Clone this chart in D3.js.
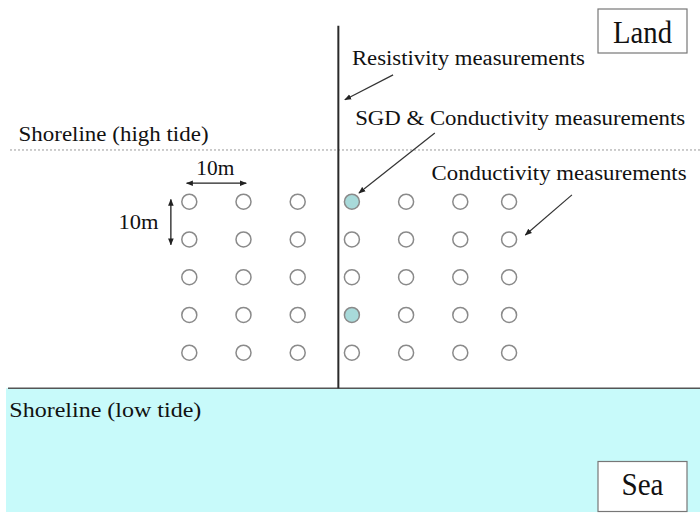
<!DOCTYPE html>
<html>
<head>
<meta charset="utf-8">
<script src="https://cdn.jsdelivr.net/npm/d3@7"></script>
<style>
  body { margin: 0; background: #fff; }
  svg text { font-family: "Liberation Serif", "Times New Roman", Times, serif; fill: #111; }
</style>
</head>
<body>
<div id="chart"></div>
<script>
// survey grid, in metres along shore (x) and towards sea (y)
let colPos = [0, 10, 20, 30, 40, 50, 59];
let rowPos = [0, 10, 20, 30, 40];
// points where SGD was measured as well as conductivity
let sgdPoints = [{x: 30, y: 0}, {x: 30, y: 30}];

let resistLineX = 27.5;      // resistivity transect
let highTideY = -13.7;       // shoreline at high tide
let lowTideY = 49.4;         // shoreline at low tide
let transectTop = -46.6;

let labels = [
    {text: "Shoreline (high tide)", x: -31.5, y: -16.2, w: 190},
    {text: "Resistivity measurements", x: 30.0, y: -36.3, w: 233},
    {text: "SGD & Conductivity measurements", x: 30.6, y: -20.2, w: 330},
    {text: "Conductivity measurements", x: 44.7, y: -5.7, w: 255},
    {text: "Shoreline (low tide)", x: -33.2, y: 57.0, w: 192}
];

// arrows: [from, to] in metres
let arrows = [
    [[37.6, -33.6], [28.7, -27.0]],
    [[45.3, -18.2], [31.3, -2.3]],
    [[70.6, -1.8], [62.0, 8.8]]
];

let width = 700,
    height = 513;

let svg = d3.select('#chart').append('svg')
    .attr('width', width)
    .attr('height', height);

// 10 m is 54 px across, 37.75 px down
let x = d3.scaleLinear().domain([0, 60]).range([189.3, 514.5]);
let y = d3.scaleLinear().domain([0, 40]).range([201.7, 352.7]);

let defs = svg.append('defs');
defs.append('marker')
    .attr('id', 'head')
    .attr('viewBox', '0 0 10 10')
    .attr('refX', 9).attr('refY', 5)
    .attr('markerWidth', 7).attr('markerHeight', 7)
    .attr('markerUnits', 'userSpaceOnUse')
    .attr('orient', 'auto-start-reverse')
    .append('path')
    .attr('d', 'M0,1 L10,5 L0,9 Z')
    .style('fill', '#222');

//----------------------------------------
// sea
svg.append('rect')
    .attr('x', 6).attr('y', y(lowTideY))
    .attr('width', width - 6)
    .attr('height', 512 - y(lowTideY))
    .style('fill', '#c8fafa');

svg.append('line')
    .attr('x1', 8).attr('x2', width)
    .attr('y1', y(lowTideY)).attr('y2', y(lowTideY))
    .style('stroke', '#555')
    .style('stroke-width', 1.5);

// high tide dotted line
svg.append('line')
    .attr('x1', 10).attr('x2', width)
    .attr('y1', y(highTideY)).attr('y2', y(highTideY))
    .style('stroke', '#9a9a9a')
    .style('stroke-width', 1)
    .style('stroke-dasharray', '2,2');

// resistivity transect
svg.append('line')
    .attr('x1', x(resistLineX)).attr('x2', x(resistLineX))
    .attr('y1', y(transectTop)).attr('y2', y(lowTideY))
    .style('stroke', '#2a2a2a')
    .style('stroke-width', 2);

//----------------------------------------
// measurement grid
let grid = [];
rowPos.forEach(function(r) {
    colPos.forEach(function(c) {
        let sgd = sgdPoints.some(function(p) { return p.x === c && p.y === r; });
        grid.push({x: c, y: r, sgd: sgd});
    });
});

svg.selectAll('circle.pt')
    .data(grid)
    .enter()
    .append('circle')
    .attr('class', 'pt')
    .attr('cx', function(d) { return x(d.x); })
    .attr('cy', function(d) { return y(d.y); })
    .attr('r', 7.5)
    .style('fill', function(d) { return d.sgd ? '#a8dada' : 'none'; })
    .style('stroke', '#8a8a8a')
    .style('stroke-width', 1.5);

//----------------------------------------
// scale arrows (10 m)
svg.append('line')
    .attr('x1', x(-0.5)).attr('x2', x(10.5))
    .attr('y1', y(-4.9)).attr('y2', y(-4.9))
    .attr('marker-start', 'url(#head)')
    .attr('marker-end', 'url(#head)')
    .style('stroke', '#222').style('stroke-width', 1.3);
svg.append('text')
    .attr('x', x(4.8)).attr('y', y(-7.1))
    .attr('text-anchor', 'middle')
    .attr('textLength', 38)
    .attr('lengthAdjust', 'spacingAndGlyphs')
    .style('font-size', '21px')
    .text('10m');

svg.append('line')
    .attr('x1', x(-3.4)).attr('x2', x(-3.4))
    .attr('y1', y(-0.6)).attr('y2', y(11.4))
    .attr('marker-start', 'url(#head)')
    .attr('marker-end', 'url(#head)')
    .style('stroke', '#222').style('stroke-width', 1.3);
svg.append('text')
    .attr('x', x(-5.7)).attr('y', y(7.3))
    .attr('text-anchor', 'end')
    .attr('textLength', 40)
    .attr('lengthAdjust', 'spacingAndGlyphs')
    .style('font-size', '21px')
    .text('10m');

//----------------------------------------
// labels and arrows
svg.selectAll('text.lbl')
    .data(labels)
    .enter()
    .append('text')
    .attr('class', 'lbl')
    .attr('x', function(d) { return x(d.x); })
    .attr('y', function(d) { return y(d.y); })
    .attr('textLength', function(d) { return d.w; })
    .attr('lengthAdjust', 'spacingAndGlyphs')
    .style('font-size', '20px')
    .text(function(d) { return d.text; });

svg.selectAll('line.arr')
    .data(arrows)
    .enter()
    .append('line')
    .attr('class', 'arr')
    .attr('x1', function(d) { return x(d[0][0]); })
    .attr('y1', function(d) { return y(d[0][1]); })
    .attr('x2', function(d) { return x(d[1][0]); })
    .attr('y2', function(d) { return y(d[1][1]); })
    .attr('marker-end', 'url(#head)')
    .style('stroke', '#333')
    .style('stroke-width', 1.2);

//----------------------------------------
// Land / Sea boxes
let boxes = [
    {text: 'Land', x0: 598, y0: 9, w: 89, h: 44, base: 43, tw: 59},
    {text: 'Sea', x0: 598, y0: 461.5, w: 89, h: 50, base: 495, tw: 42}
];
boxes.forEach(function(b) {
    svg.append('rect')
        .attr('x', b.x0).attr('y', b.y0)
        .attr('width', b.w).attr('height', b.h)
        .style('fill', '#fff')
        .style('stroke', '#777')
        .style('stroke-width', 1.2);
    svg.append('text')
        .attr('x', b.x0 + b.w / 2).attr('y', b.base)
        .attr('text-anchor', 'middle')
        .attr('textLength', b.tw)
        .attr('lengthAdjust', 'spacingAndGlyphs')
        .style('font-size', '31px')
        .text(b.text);
});
</script>
</body>
</html>
